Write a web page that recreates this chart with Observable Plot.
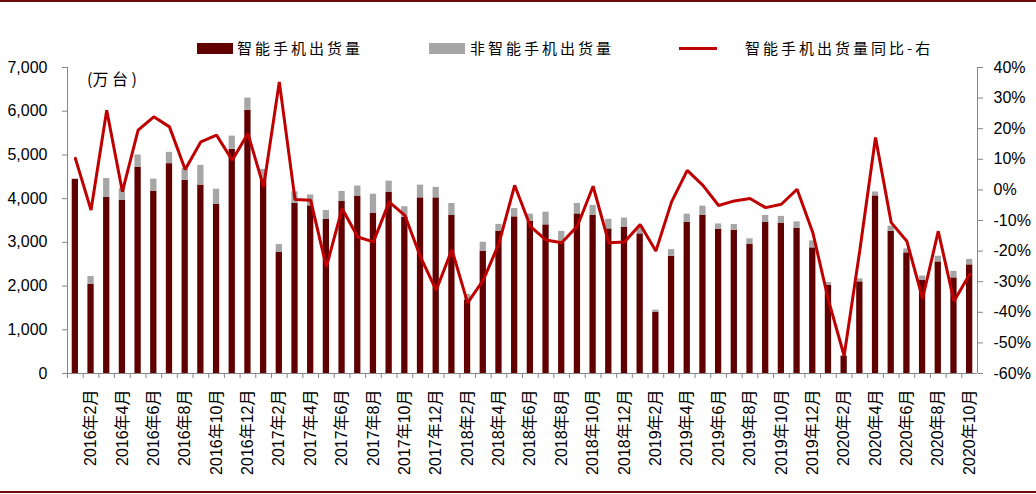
<!DOCTYPE html>
<html>
<head>
<meta charset="utf-8">
<script src="https://cdn.jsdelivr.net/npm/d3@7"></script>
<script src="https://cdn.jsdelivr.net/npm/@observablehq/plot@0.6"></script>
<style>
  body { margin: 0; background: #fff; }
  #wrap { position: relative; width: 1036px; height: 494px; overflow: hidden; background: #fff; font-family: "Noto Sans CJK SC", sans-serif; }
  #wrap svg { position: absolute; left: 0; top: 0; }
  .bord { position: absolute; left: 0; width: 1036px; height: 2px; background: #6e0b0b; }
  .sw { position: absolute; }
  .lg { position: absolute; font-size: 15px; letter-spacing: 3px; color: #000; line-height: 20px; white-space: nowrap; }
  #unit { position: absolute; left: 87px; top: 67px; font-size: 16px; color: #000; line-height: 22px; white-space: nowrap; }
</style>
</head>
<body>
<div id="wrap">
  <div class="bord" style="top:0px"></div>
  <div class="bord" style="top:491px"></div>
  <div id="unit">(万 台 )</div>
  <div class="sw" style="left:197px;top:43px;width:36px;height:11px;background:#600000"></div>
  <div class="lg" style="left:237px;top:38px">智能手机出货量</div>
  <div class="sw" style="left:429px;top:43px;width:36px;height:11px;background:#a6a6a6"></div>
  <div class="lg" style="left:470px;top:38px">非智能手机出货量</div>
  <div class="sw" style="left:679px;top:47px;width:38px;height:3px;background:#c00000"></div>
  <div class="lg" style="left:745px;top:38px">智能手机出货量同比-右</div>
</div>
<script>
const months = [
  "2016-01","2016-02","2016-03","2016-04","2016-05","2016-06","2016-07","2016-08","2016-09","2016-10","2016-11","2016-12",
  "2017-01","2017-02","2017-03","2017-04","2017-05","2017-06","2017-07","2017-08","2017-09","2017-10","2017-11","2017-12",
  "2018-01","2018-02","2018-03","2018-04","2018-05","2018-06","2018-07","2018-08","2018-09","2018-10","2018-11","2018-12",
  "2019-01","2019-02","2019-03","2019-04","2019-05","2019-06","2019-07","2019-08","2019-09","2019-10","2019-11","2019-12",
  "2020-01","2020-02","2020-03","2020-04","2020-05","2020-06","2020-07","2020-08","2020-09","2020-10"
];
const smart = [
  4440,2040,4030,3965,4720,4170,4800,4420,4310,3870,5130,6020,
  4450,2770,3890,3835,3523,3935,4059,3667,4141,3569,4018,4018,
  3615,1677,2798,3256,3583,3484,3400,2981,3651,3615,3308,3340,
  3194,1396,2684,3461,3622,3301,3278,2951,3455,3439,3324,2874,
  2020,390,2096,4063,3256,2760,2128,2553,2187,2485
];
const nonSmart = [
  10,180,430,270,280,275,260,270,450,345,300,280,
  220,180,265,250,205,230,230,435,260,245,290,240,
  275,130,205,155,190,160,290,270,240,230,220,215,
  160,52,150,185,205,120,130,130,160,155,145,160,
  60,20,70,90,115,90,100,130,150,125
];
const yoy = [
  10.3,-6.6,26.0,-0.6,19.5,23.9,20.6,6.7,15.7,17.9,9.7,18.4,
  1.0,35.3,-3.1,-3.4,-25.2,-6.1,-15.4,-17.0,-3.9,-8.3,-21.9,-32.8,
  -19.5,-36.9,-29.5,-17.5,1.5,-11.9,-16.4,-17.3,-11.8,1.2,-17.3,-17.0,
  -11.3,-20.0,-3.9,6.4,1.5,-5.1,-3.6,-2.8,-5.8,-4.7,0.2,-13.9,
  -36.0,-54.2,-19.7,17.1,-10.7,-16.8,-35.5,-13.5,-36.4,-27.6
];
const leftTicks = [0,1000,2000,3000,4000,5000,6000,7000];
const rightTicks = [40,30,20,10,0,-10,-20,-30,-40,-50,-60];
const seriesNames = ["智能手机出货量","非智能手机出货量"];
const seriesColors = ["#600000","#a6a6a6"];

const W = 1036, H = 494, mL = 67, mR = 59, mT = 67, mB = 121;
const step = (W - mL - mR) / months.length;
const yMax = 7000, pMin = -60, pMax = 40;
const pctToY = p => (p - pMin) / (pMax - pMin) * yMax;

const bars = [];
months.forEach((m, i) => {
  bars.push({month: m, series: seriesNames[0], value: smart[i]});
  bars.push({month: m, series: seriesNames[1], value: nonSmart[i]});
});
const line = months.map((m, i) => ({month: m, yoy: yoy[i]}));
const labelMonths = months.filter(m => +m.slice(5) % 2 === 0);
const fmtMonth = m => `${+m.slice(0,4)}年${+m.slice(5)}月`;
const axisColor = "#868686";

const chart = Plot.plot({
  width: W, height: H,
  marginLeft: mL, marginRight: mR, marginTop: mT, marginBottom: mB,
  style: {fontFamily: "'Liberation Sans', 'Noto Sans CJK SC', sans-serif", fontSize: "16px", color: "#000", background: "transparent"},
  x: {type: "band", domain: months, paddingInner: 0.6, paddingOuter: 0.3, axis: null, label: null},
  y: {domain: [0, yMax], axis: null, label: null},
  color: {domain: seriesNames, range: seriesColors},
  marks: [
    Plot.barY(bars, {x: "month", y: "value", fill: "series", order: seriesNames}),
    Plot.ruleY([0], {stroke: axisColor}),
    Plot.ruleX([months[0]], {dx: -step / 2, stroke: axisColor}),
    Plot.ruleX([months[months.length - 1]], {dx: step / 2, stroke: axisColor}),
    Plot.axisX({ticks: months, tickFormat: () => "", tickSize: 5, dx: -step / 2, stroke: axisColor, label: null}),
    Plot.axisX({ticks: labelMonths, tickFormat: fmtMonth, tickSize: 0, tickPadding: 16, tickRotate: -90, fontSize: 16, fill: "#000", label: null}),
    Plot.axisY({anchor: "left", ticks: leftTicks, tickFormat: d3.format(","), tickSize: 5, tickPadding: 15, stroke: axisColor, fill: "#000", fontSize: 16, label: null}),
    Plot.axisY({anchor: "right", ticks: rightTicks.map(pctToY), tickFormat: v => `${Math.round(v / yMax * (pMax - pMin) + pMin)}%`, tickSize: 5, tickPadding: 11, stroke: axisColor, fill: "#000", fontSize: 16, label: null}),
    Plot.line(line, {x: "month", y: d => pctToY(d.yoy), stroke: "#c00000", strokeWidth: 3, strokeLinejoin: "miter"})
  ]
});
document.getElementById("wrap").prepend(chart);
</script>
</body>
</html>
